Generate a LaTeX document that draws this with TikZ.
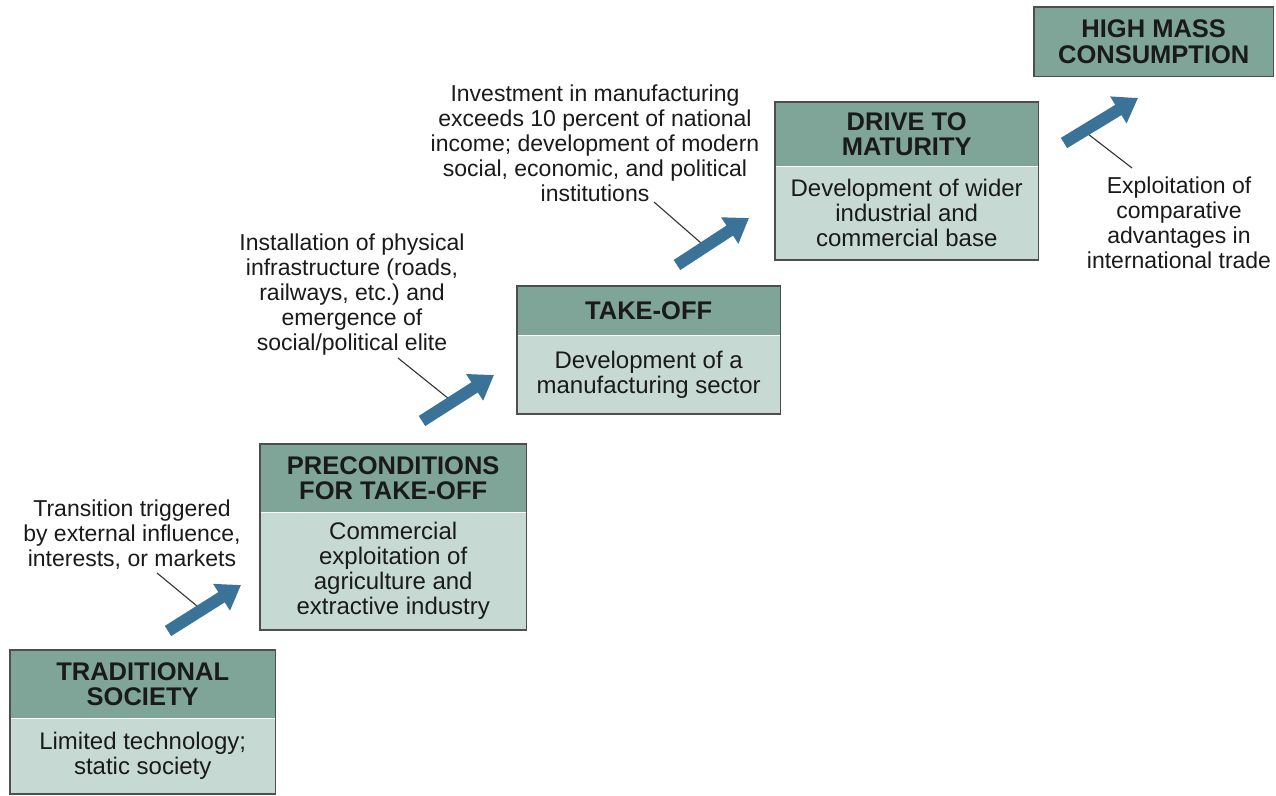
\documentclass[tikz,border=0pt]{standalone}
\usepackage{fontspec}
\setmainfont{Liberation Sans}
\usetikzlibrary{arrows.meta}
\definecolor{hdrc}{HTML}{7FA599}
\definecolor{bodyc}{HTML}{C7D9D3}
\definecolor{edgec}{HTML}{4E4E4E}
\definecolor{arrc}{HTML}{3B7398}
\definecolor{leadc}{HTML}{333333}
\definecolor{txtc}{HTML}{1A1A1A}
\begin{document}
\begin{tikzpicture}[x=1pt,y=-1pt,
  hdr/.style={fill=hdrc, inner sep=0pt, align=center, anchor=north west, text=txtc,
    font=\fontsize{25.5}{25.5}\selectfont\bfseries},
  bdy/.style={fill=bodyc, inner sep=0pt, align=center, anchor=north, text=txtc,
    font=\fontsize{24}{25}\selectfont},
  frame/.style={draw=edgec, line width=1.8pt},
  note/.style={align=center, inner sep=0pt, text=txtc, font=\fontsize{23}{25}\selectfont},
  leader/.style={draw=leadc, line width=1.1pt},
  bigarrow/.style={draw=arrc, line width=12pt, -{Triangle[width=30pt,length=23pt]}}
]
\useasboundingbox (0,0) rectangle (1276,795);
\fill[white] (0,0) rectangle (1276,795);

% boxes
\node[hdr, minimum width=265pt, minimum height=68pt] (trad) at (10,650) {TRADITIONAL\\SOCIETY};
\node[bdy, minimum width=265pt, minimum height=75pt] (tradb) at (trad.south) {Limited technology;\\static society};
\draw[frame] (trad.north west) rectangle (tradb.south east);

\node[hdr, minimum width=266pt, minimum height=68pt] (pre) at (260,444) {PRECONDITIONS\\FOR TAKE-OFF};
\node[bdy, minimum width=266pt, minimum height=117pt] (preb) at (pre.south) {Commercial\\exploitation of\\agriculture and\\extractive industry};
\draw[frame] (pre.north west) rectangle (preb.south east);

\node[hdr, minimum width=263pt, minimum height=49pt] (take) at (517,286) {TAKE-OFF};
\node[bdy, minimum width=263pt, minimum height=78pt] (takeb) at (take.south) {Development of a\\manufacturing sector};
\draw[frame] (take.north west) rectangle (takeb.south east);

\node[hdr, minimum width=263pt, minimum height=64pt] (drive) at (775,102) {DRIVE TO\\MATURITY};
\node[bdy, minimum width=263pt, minimum height=93pt] (driveb) at (drive.south) {Development of wider\\industrial and\\commercial base};
\draw[frame] (drive.north west) rectangle (driveb.south east);

\node[hdr, minimum width=239pt, minimum height=69pt] (high) at (1034,7) {HIGH MASS\\CONSUMPTION};
\draw[frame] (high.north west) rectangle (high.south east);

% annotations
\node[note] (n1) at (132,535) {Transition triggered\\by external influence,\\interests, or markets};
\node[note] (n2) at (352,295) {Installation of physical\\infrastructure (roads,\\railways, etc.)\ and\\emergence of\\social/political elite};
\node[note] (n3) at (595,143) {Investment in manufacturing\\exceeds 10 percent of national\\income; development of modern\\social, economic, and political\\institutions};
\node[note] (n4) at (1179,223) {Exploitation of\\comparative\\advantages in\\international trade};

% arrow end points
\coordinate (a1t) at (168,631); \coordinate (a1h) at (241,585);
\coordinate (a2t) at (422,421); \coordinate (a2h) at (494,375);
\coordinate (a3t) at (677,265); \coordinate (a3h) at (749,218);
\coordinate (a4t) at (1064,143); \coordinate (a4h) at (1138,98);

% leader points
\coordinate (l1a) at (157,573); \coordinate (l1b) at (197,606);
\coordinate (l2a) at (398,358); \coordinate (l2b) at (449,399);
\coordinate (l3a) at (654,202); \coordinate (l3b) at (701,243);
\coordinate (l4a) at (1132,168); \coordinate (l4b) at (1088,134);

\draw[leader] (l1a) -- (l1b);
\draw[leader] (l2a) -- (l2b);
\draw[leader] (l3a) -- (l3b);
\draw[leader] (l4a) -- (l4b);

\draw[bigarrow] (a1t) -- (a1h);
\draw[bigarrow] (a2t) -- (a2h);
\draw[bigarrow] (a3t) -- (a3h);
\draw[bigarrow] (a4t) -- (a4h);
\end{tikzpicture}
\end{document}
